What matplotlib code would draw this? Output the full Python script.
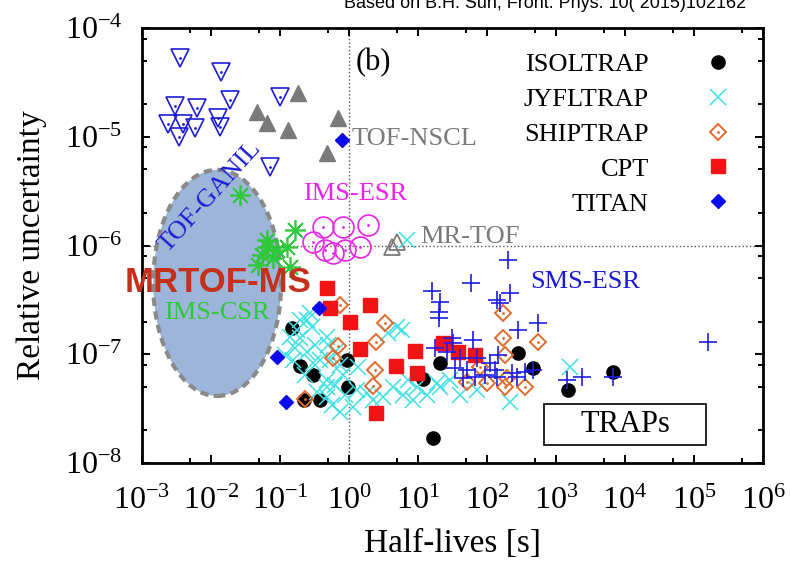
import matplotlib.pyplot as plt
from matplotlib.patches import Ellipse, Rectangle
from matplotlib.ticker import LogLocator, NullFormatter

# 字体: Times 风格
plt.rcParams['font.family'] = ['Liberation Serif', 'DejaVu Serif']
plt.rcParams['mathtext.fontset'] = 'custom'
plt.rcParams['mathtext.rm'] = 'Liberation Serif'
plt.rcParams['mathtext.it'] = 'Liberation Serif:italic'

# 数据: 半衰期 [s], 相对不确定度
isol_t = [0.149, 0.195, 0.30, 0.94, 0.97, 0.22, 0.38, 11.8, 16.5, 20.8, 281, 465, 1490, 6700]
isol_u = [1.74e-7, 7.8e-8, 6.44e-8, 8.85e-8, 5.0e-8, 3.8e-8, 3.8e-8, 5.92e-8, 1.7e-8, 8.3e-8,
          1.03e-7, 7.5e-8, 4.7e-8, 6.9e-8]

jyfl_t = [0.25, 0.29, 0.195, 0.165, 0.25, 0.38, 0.50, 0.63, 0.74, 0.48, 0.34, 0.48, 0.57, 0.74,
          1.3, 1.8, 3.1, 4.3, 5.0, 3.7, 7.2, 9.7, 13.5, 6.1, 1.35, 0.27, 0.176, 0.14, 0.48, 0.154,
          0.53, 0.30, 0.48, 1.14, 2.2, 20.8, 0.82, 8.5, 18.8, 72, 215, 1600, 5.9, 6.9, 0.32,
          0.23, 0.875, 29, 40.6, 0.63, 0.195, 0.118]
jyfl_u = [2.07e-7, 1.78e-7, 1.41e-7, 1.14e-7, 1.05e-7, 8.85e-8, 1.22e-7, 1.05e-7, 7.96e-8, 5.8e-8,
          4.5e-8, 4.05e-8, 3.41e-8, 2.94e-8, 4.69e-8, 4.4e-8, 4.05e-8, 5.0e-8, 1.78e-7, 1.57e-7,
          5.8e-8, 5.0e-8, 4.22e-8, 4.22e-8, 7.64e-8, 2.39e-7, 1.67e-7, 1.44e-7, 1.44e-7, 8.85e-8,
          8.85e-8, 8.3e-8, 5.0e-8, 3.27e-8, 3.8e-8, 5.0e-8, 6.44e-8, 3.8e-8, 5.45e-8, 4.7e-8,
          3.64e-8, 7.6e-8, 1.67e-7, 1.12e-6, 1.22e-7, 6.44e-8, 4.22e-8, 5.8e-8, 4.22e-8, 5.2e-8,
          2.07e-7, 9.8e-8]

ship_t = [0.74, 3.3, 2.5, 0.69, 0.59, 2.4, 2.2, 0.23, 171, 171, 548, 182, 79, 51, 100, 182, 356, 195]
ship_u = [2.84e-7, 1.94e-7, 1.3e-7, 1.19e-7, 9.2e-8, 7.16e-8, 5.1e-8, 3.88e-8, 2.39e-7, 1.41e-7,
          1.3e-7, 9.8e-8, 7.64e-8, 5.56e-8, 5.45e-8, 5.0e-8, 5.0e-8, 6.05e-8]

cpt_t = [0.48, 0.53, 1.03, 2.0, 1.44, 4.8, 2.5, 9.1, 9.7, 23, 38, 67]
cpt_u = [4.06e-7, 2.66e-7, 1.98e-7, 2.84e-7, 1.12e-7, 7.8e-8, 2.88e-8, 1.07e-7, 6.73e-8,
         1.27e-7, 1.05e-7, 9.8e-8]

titan_t = [0.37, 0.09, 0.122, 0.79]
titan_u = [2.66e-7, 9.4e-8, 3.64e-8, 9.3e-6]

sms_t = [201, 59, 16, 20.8, 20.1, 20.1, 140, 215, 154, 281, 548, 31, 63, 17.6, 32, 26, 40.6, 51,
         34, 72, 110, 144, 131, 140, 230, 272, 356, 465, 45, 67, 94, 1440, 2380, 6700, 1.6e5]
sms_u = [7.4e-7, 4.5e-7, 3.8e-7, 3.02e-7, 2.45e-7, 2.15e-7, 3.15e-7, 3.66e-7, 2.96e-7, 1.67e-7,
         1.94e-7, 1.41e-7, 1.35e-7, 1.14e-7, 1.27e-7, 1.05e-7, 9.2e-8, 7.16e-8, 7.48e-8, 9.2e-8,
         8.3e-8, 9.8e-8, 7.16e-8, 6.18e-8, 6.73e-8, 6.18e-8, 6.87e-8, 7.16e-8, 6.05e-8, 6.18e-8,
         6.44e-8, 5.8e-8, 6.18e-8, 6.18e-8, 1.3e-7]

ganil_t = [0.0036, 0.014, 0.003, 0.0063, 0.019, 0.0126, 0.0024, 0.0039, 0.0059, 0.0135, 0.0034,
           0.1, 0.072]
ganil_u = [5.3e-5, 3.9e-5, 1.9e-5, 1.85e-5, 2.2e-5, 1.5e-5, 1.3e-5, 1.3e-5, 1.2e-5, 1.23e-5,
           1.0e-5, 2.3e-5, 5.3e-6]

nscl_t = [0.18, 0.046, 0.065, 0.13, 0.69, 0.48]
nscl_u = [2.5e-5, 1.7e-5, 1.34e-5, 1.15e-5, 1.5e-5, 7.1e-6]

esr_t = [0.42, 0.82, 1.9, 0.30, 0.45, 0.59, 0.875, 1.44]
esr_u = [1.48e-6, 1.48e-6, 1.55e-6, 1.08e-6, 9.1e-7, 8.6e-7, 9.1e-7, 9.7e-7]

mrtof_t = [4.2, 5.0]
mrtof_u = [9.7e-7, 1.08e-6]

csr_t = [0.026, 0.165, 0.065, 0.09, 0.126, 0.079, 0.14, 0.048, 0.065, 0.055]
csr_u = [2.9e-6, 1.39e-6, 9.7e-7, 9.1e-7, 9.7e-7, 7.7e-7, 6.3e-7, 6.6e-7, 1.12e-6, 8.2e-7]

fig = plt.figure(figsize=(7.9, 5.67), dpi=100)
ax = fig.add_axes([142 / 790, 1 - 463 / 567, 621 / 790, 435 / 567])
ax.set_xscale('log')
ax.set_yscale('log')
ax.set_xlim(1e-3, 1e6)
ax.set_ylim(1e-8, 1e-4)

# 椭圆区域 (MRTOF-MS)
ax.add_patch(Ellipse((0.121, 0.414), 0.206, 0.52, transform=ax.transAxes,
                     fc='#9cb5d8', ec='#8a8a8a', lw=3, ls=(0, (2, 1.3)), zorder=1))

# 参考虚线
ax.axvline(1, color='#555555', ls=':', lw=1, zorder=0.5)
ax.axhline(1e-6, color='#555555', ls=':', lw=1, zorder=0.5)

blue = '#1c1cd8'
ax.plot(ganil_t, ganil_u, 'v', ms=13, mfc='none', mec=blue, mew=1.2, zorder=3)
ax.plot(ganil_t, ganil_u, '.', ms=2, color=blue, zorder=3)
ax.plot(nscl_t, nscl_u, '^', ms=11, color='#7a7a7a', zorder=3)
ax.plot(esr_t, esr_u, 'o', ms=15, mfc='none', mec='#ee22ee', mew=1.2, zorder=3)
ax.plot(esr_t, esr_u, '.', ms=2, color='#ee22ee', zorder=3)
ax.plot(mrtof_t, mrtof_u, '^', ms=11, mfc='none', mec='#7a7a7a', mew=1.3, zorder=3)
ax.plot(csr_t, csr_u, ls='none', marker=(8, 2, 0), ms=15, mec='#2ec83a', mew=1.2, zorder=3)

h_isol, = ax.plot(isol_t, isol_u, 'o', ms=9.5, color='black', zorder=4)
h_jyfl, = ax.plot(jyfl_t, jyfl_u, 'x', ms=12, mec='#3ee0e6', mew=1.1, zorder=4)
h_ship, = ax.plot(ship_t, ship_u, 'D', ms=8, mfc='none', mec='#e26a2c', mew=1.4, zorder=4)
h_ship_dot, = ax.plot(ship_t, ship_u, '.', ms=2, color='#e26a2c', zorder=4)
h_cpt, = ax.plot(cpt_t, cpt_u, 's', ms=10, color='#f21414', zorder=4)
h_titan, = ax.plot(titan_t, titan_u, 'D', ms=7, color='#0a0aee', zorder=4)
ax.plot(sms_t, sms_u, '+', ms=13, mec='#1e1ee6', mew=1.2, zorder=4)

leg = ax.legend([h_isol, h_jyfl, (h_ship, h_ship_dot), h_cpt, h_titan],
                ['ISOLTRAP', 'JYFLTRAP', 'SHIPTRAP', 'CPT', 'TITAN'],
                loc='upper right', bbox_to_anchor=(0.948, 0.943), markerfirst=False,
                frameon=False, fontsize=19, labelspacing=0.43, handlelength=1.0,
                handletextpad=2.1, borderpad=0, borderaxespad=0)

# 文字标注
ax.text(0.372, 0.92, '(b)', transform=ax.transAxes, fontsize=22, ha='center', va='center')
ax.text(0.338, 0.745, 'TOF-NSCL', transform=ax.transAxes, fontsize=19, color='#7a7a7a',
        ha='left', va='center')
ax.text(0.343, 0.618, 'IMS-ESR', transform=ax.transAxes, fontsize=19, color='#ee22ee',
        ha='center', va='center')
ax.text(0.448, 0.519, 'MR-TOF', transform=ax.transAxes, fontsize=19, color='#7a7a7a',
        ha='left', va='center')
ax.text(0.625, 0.416, 'SMS-ESR', transform=ax.transAxes, fontsize=19, color=blue,
        ha='left', va='center')
ax.text(0.11, 0.611, 'TOF-GANIL', transform=ax.transAxes, fontsize=19, color=blue,
        rotation=48, ha='center', va='center', zorder=5)
ax.text(0.121, 0.345, 'IMS-CSR', transform=ax.transAxes, fontsize=19, color='#2ec83a',
        ha='center', va='center', zorder=5)
ax.text(0.123, 0.416, 'MRTOF-MS', transform=ax.transAxes, fontsize=25, color='#c4301c',
        family='Liberation Sans', weight='bold', ha='center', va='center', zorder=5)
ax.add_patch(Rectangle((0.647, 0.041), 0.262, 0.094, transform=ax.transAxes,
                       fc='white', ec='black', lw=1.2, zorder=5))
ax.text(0.778, 0.088, 'TRAPs', transform=ax.transAxes, fontsize=22, ha='center',
        va='center', zorder=6)

# 坐标轴
ax.xaxis.set_major_locator(LogLocator(base=10, numticks=20))
ax.xaxis.set_minor_locator(LogLocator(base=10, subs=(5,), numticks=20))
ax.yaxis.set_major_locator(LogLocator(base=10, numticks=20))
ax.yaxis.set_minor_locator(LogLocator(base=10, subs=(2, 5, 8), numticks=20))
ax.xaxis.set_minor_formatter(NullFormatter())
ax.yaxis.set_minor_formatter(NullFormatter())
ax.tick_params(which='both', direction='in', top=True, right=True, width=1.4, labelsize=23)
ax.tick_params(which='major', length=6)
ax.tick_params(which='minor', length=3.5)
ax.tick_params(axis='x', pad=17)
ax.tick_params(axis='y', pad=14)
for s in ax.spines.values():
    s.set_linewidth(2)

ax.set_xlabel('Half-lives [s]', fontsize=24)
ax.set_ylabel('Relative uncertainty', fontsize=24)
ax.xaxis.set_label_coords(0.5, -0.15)
ax.yaxis.set_label_coords(-0.153, 0.5)

# 顶部来源 (原图中上半部被裁掉)
fig.text(0.69, 1 - 8 / 567, 'Based on B.H. Sun, Front. Phys. 10( 2015)102162',
         family='Liberation Sans', fontsize=13, ha='center', va='baseline')

fig.savefig('out.png', dpi=100)
